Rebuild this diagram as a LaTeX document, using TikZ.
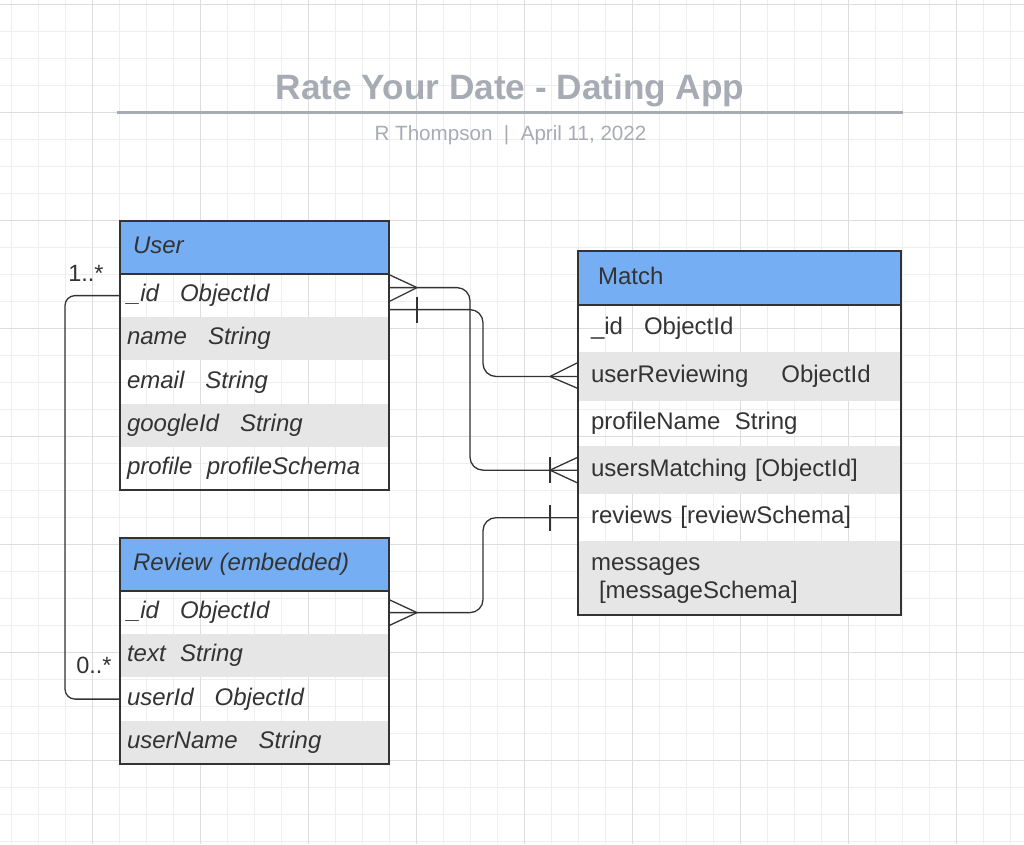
\documentclass[tikz,border=0pt]{standalone}
\usepackage{fontspec}
\setmainfont{Liberation Sans}
\usetikzlibrary{calc}
\definecolor{hdr}{HTML}{76AEF4}
\definecolor{rowgray}{HTML}{E6E6E6}
\definecolor{ink}{HTML}{333333}
\definecolor{titlegray}{HTML}{A7ABB4}
\definecolor{gridminor}{HTML}{EEEEEE}
\definecolor{gridmajor}{HTML}{DDDDDD}
\newcommand\gaptwo{\hspace{14.5pt}}
\newcommand\gapthree{\hspace{21pt}}
\newcommand\gapfive{\hspace{33pt}}
\tikzset{
  cell/.style={anchor=north west, inner ysep=0pt, outer sep=0pt, text=ink, align=left},
  onel/.style={text height=17pt, text depth=5pt},
  ufont/.style={font=\itshape\fontsize{24}{28}\selectfont},
  mfont/.style={font=\fontsize{24}{28}\selectfont},
  urow/.style={cell, onel, ufont, text width=255pt, inner xsep=7pt, minimum height=43.2pt},
  uhead/.style={cell, onel, ufont, text width=243pt, inner xsep=13pt, minimum height=53pt, fill=hdr},
  mrow/.style={cell, onel, mfont, text width=297pt, inner xsep=13pt},
  mhead/.style={cell, onel, mfont, text width=283pt, inner xsep=20pt, minimum height=54pt, fill=hdr},
  gray/.style={fill=rowgray},
  frame/.style={draw=ink, line width=1.3pt},
  conn/.style={draw=ink, line width=1.3pt},
  mult/.style={text=ink, font=\fontsize{23.5}{26}\selectfont, inner sep=0pt},
}
\begin{document}
\begin{tikzpicture}[x=1pt,y=-1pt]
\useasboundingbox (0,0) rectangle (1024,844);
\fill[white] (0,0) rectangle (1024,844);
% grid
\foreach \k in {0,...,37} \draw[gridminor, line width=1pt] ({11.7+27*\k},0) -- ({11.7+27*\k},844);
\foreach \k in {0,...,31} \draw[gridminor, line width=1pt] (0,{4.3+27*\k}) -- (1024,{4.3+27*\k});
\foreach \k in {0,...,8} \draw[gridmajor, line width=1.3pt] ({92.3+108*\k},0) -- ({92.3+108*\k},844);
\foreach \k in {0,...,7} \draw[gridmajor, line width=1.3pt] (0,{4.3+108*\k}) -- (1024,{4.3+108*\k});

% title
\node[text=titlegray, font=\bfseries\fontsize{35.2}{40}\selectfont] (title) at (510,90.5) {Rate Your Date - Dating App};
\draw[titlegray, line width=3pt] (117,112) -- (903,112);
\node[text=titlegray, font=\fontsize{20.6}{24}\selectfont] (subtitle) at (510.5,135) {R Thompson\ \ |\ \ April 11, 2022};

% User table
\node[uhead] (uh) at (120,221) {User};
\node[urow] (u1) at (120,274) {\_id\gapthree ObjectId};
\node[urow, gray] (u2) at (120,317.2) {name\gapthree String};
\node[urow] (u3) at (120,360.4) {email\gapthree String};
\node[urow, gray] (u4) at (120,403.6) {googleId\gapthree String};
\node[urow] (u5) at (120,446.8) {profile\gaptwo profileSchema};
\draw[frame] (uh.north west) rectangle (u5.south east);
\draw[frame] (uh.south west) -- (uh.south east);

% Review table
\node[uhead] (rh) at (120,538) {Review (embedded)};
\node[urow] (r1) at (120,591) {\_id\gapthree ObjectId};
\node[urow, gray] (r2) at (120,634.25) {text\gaptwo String};
\node[urow] (r3) at (120,677.5) {userId\gapthree ObjectId};
\node[urow, gray] (r4) at (120,720.75) {userName\gapthree String};
\draw[frame] (rh.north west) rectangle (r4.south east);
\draw[frame] (rh.south west) -- (rh.south east);

% Match table
\node[mhead] (mh) at (578,251) {Match};
\node[mrow, minimum height=47.3pt] (m1) at (578,305) {\_id\gapthree ObjectId};
\node[mrow, gray, minimum height=48.4pt] (m2) at (578,352.3) {userReviewing\gapfive ObjectId};
\node[mrow, minimum height=45.3pt] (m3) at (578,400.7) {profileName\gaptwo String};
\node[mrow, gray, minimum height=48.3pt] (m4) at (578,446) {usersMatching [ObjectId]};
\node[mrow, minimum height=46.7pt] (m5) at (578,494.3) {reviews [reviewSchema]};
\node[cell, mfont, text width=297pt, inner xsep=13pt, gray, minimum height=74pt] (m6) at (578,541) {\rule{0pt}{18pt}messages\\\hspace*{8pt}[messageSchema]};
\draw[frame] (mh.north west) rectangle (m6.south east);
\draw[frame] (mh.south west) -- (mh.south east);

% connector 1: User._id (many) -> Match.usersMatching (one or many)
\coordinate (s1) at ([yshift=8pt]u1.east);
\draw[conn, rounded corners=13pt] (s1) -| ($(m4.west)+(-108,0)$) -- (m4.west);
\draw[conn] ($(s1)+(0,-13)$) -- ($(s1)+(28,0)$) -- ($(s1)+(0,14)$);
\draw[conn] ($(m4.west)+(0,-13)$) -- ($(m4.west)+(-28,0)$) -- ($(m4.west)+(0,13)$);
\draw[conn] ($(m4.west)+(-28,-13)$) -- ($(m4.west)+(-28,13)$);

% connector 2: User._id (one) -> Match.userReviewing (many)
\coordinate (s2) at ([yshift=-14pt]u1.east);
\draw[conn, rounded corners=13pt] (s2) -| ($(m2.west)+(-95,0)$) -- (m2.west);
\draw[conn] ($(s2)+(28,-13)$) -- ($(s2)+(28,13)$);
\draw[conn] ($(m2.west)+(0,-14)$) -- ($(m2.west)+(-28,0)$) -- ($(m2.west)+(0,12)$);

% connector 3: Review._id (many) -> Match.reviews (one)
\draw[conn, rounded corners=13pt] (r1.east) -| ($(m5.west)+(-95,0)$) -- (m5.west);
\draw[conn] ($(r1.east)+(0,-13)$) -- ($(r1.east)+(28,0)$) -- ($(r1.east)+(0,13)$);
\draw[conn] ($(m5.west)+(-28,-13)$) -- ($(m5.west)+(-28,13)$);

% connector 4: User._id -- Review.userId
\draw[conn, rounded corners=10pt] (u1.west) -- ++(-55,0) |- (r3.west);
\node[mult] (mu) at (86,273) {1..*};
\node[mult] (mr) at (94,665) {0..*};
\end{tikzpicture}
\end{document}
